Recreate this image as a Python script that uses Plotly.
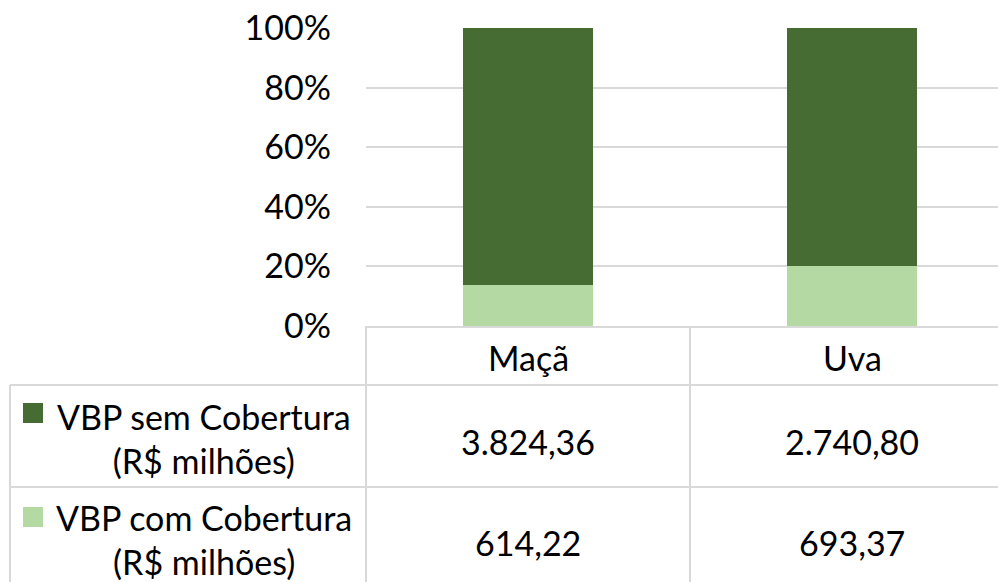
import plotly.graph_objects as go

# ---- data ----
categories = ["Maçã", "Uva"]
series_names = ["VBP sem Cobertura<br>(R$ milhões)", "VBP com Cobertura<br>(R$ milhões)"]
vbp_sem = [3824.36, 2740.80]
vbp_com = [614.22, 693.37]
y_ticks = [0, 20, 40, 60, 80, 100]
y_tick_labels = ["0%", "20%", "40%", "60%", "80%", "100%"]

DARK = "#466B33"
LIGHT = "#B5D9A3"
GRID = "#D9D9D9"
FONT = "Lato, Carlito, Calibri, sans-serif"
FS = 34

W, H = 998, 582

def px(x):
    return x / W

def py(y):
    return 1 - y / H

def br(v):
    s = f"{v:,.2f}"
    return s.replace(",", "X").replace(".", ",").replace("X", ".")

fig = go.Figure()
fig.add_trace(go.Bar(x=categories, y=vbp_com, name=series_names[1], marker_color=LIGHT,
                     width=0.40, showlegend=False))
fig.add_trace(go.Bar(x=categories, y=vbp_sem, name=series_names[0], marker_color=DARK,
                     width=0.40, showlegend=False))

x0, x1 = 366, 998
cat_w = 324
fig.update_layout(
    template="none",
    width=W, height=H,
    margin=dict(l=0, r=0, t=0, b=0, pad=0, autoexpand=False),
    paper_bgcolor="white", plot_bgcolor="white",
    barmode="stack", barnorm="percent",
    font=dict(family=FONT, size=FS, color="#000000"),
    xaxis=dict(domain=[px(x0), px(x1)], range=[-0.5, -0.5 + (x1 - x0) / cat_w],
               showticklabels=False, showgrid=False, zeroline=False, automargin=False,
               showline=True, linecolor=GRID, linewidth=2, ticks=""),
    yaxis=dict(domain=[py(326), py(28)], range=[0, 100], tickvals=y_ticks,
               ticktext=y_tick_labels, showgrid=True, gridcolor=GRID, gridwidth=2,
               zeroline=False, showline=False, ticks="", ticklabelstandoff=34,
               automargin=False,
               tickfont=dict(family=FONT, size=FS, color="#000000")),
)

shapes = []
def hline(y, xa, xb):
    shapes.append(dict(type="line", xref="paper", yref="paper", x0=px(xa), x1=px(xb),
                       y0=py(y), y1=py(y), line=dict(color=GRID, width=2)))
def vline(x, ya, yb):
    shapes.append(dict(type="line", xref="paper", yref="paper", x0=px(x), x1=px(x),
                       y0=py(ya), y1=py(yb), line=dict(color=GRID, width=2)))

hline(385, 10, 998)
hline(487, 10, 998)
vline(10, 385, 582)
vline(366, 326, 582)
vline(690, 326, 582)

# legend keys
for (ytop, col) in [(403, DARK), (507, LIGHT)]:
    shapes.append(dict(type="rect", xref="paper", yref="paper", x0=px(23), x1=px(43),
                       y0=py(ytop + 20), y1=py(ytop), fillcolor=col, line=dict(width=0)))
fig.update_layout(shapes=shapes)

ann = []
col_centers = [528, 852]
for c, cx in zip(categories, col_centers):
    ann.append(dict(text=c, x=px(cx), y=py(357), xref="paper", yref="paper",
                    showarrow=False, xanchor="center", yanchor="middle"))
row_centers = [438, 539]
rows = [vbp_sem, vbp_com]
for name, rc, vals in zip(series_names, row_centers, rows):
    ann.append(dict(text=name, x=px(204), y=py(rc), xref="paper", yref="paper",
                    showarrow=False, xanchor="center", yanchor="middle", align="center"))
    for v, cx in zip(vals, col_centers):
        ann.append(dict(text=br(v), x=px(cx), y=py(rc + 3), xref="paper", yref="paper",
                        showarrow=False, xanchor="center", yanchor="middle"))
fig.update_layout(annotations=ann)

fig.write_html("out.html", config={"displayModeBar": False},
               post_script="document.body.style.margin='0';document.body.style.overflow='hidden';")
